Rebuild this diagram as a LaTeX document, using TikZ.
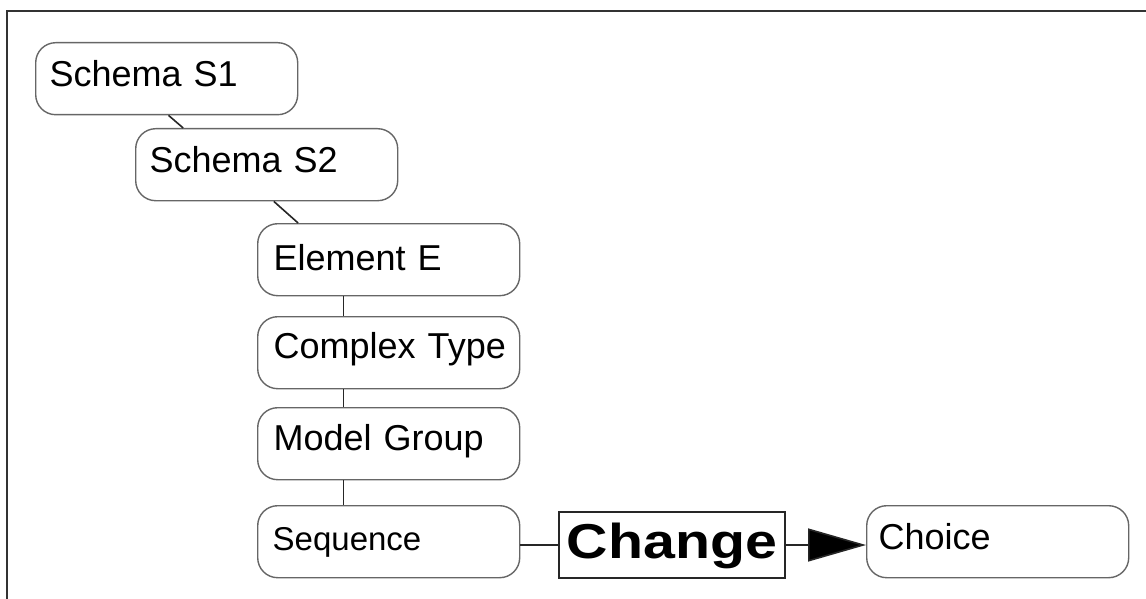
\documentclass[tikz,border=0pt]{standalone}
\usepackage{fontspec}
\setmainfont{Liberation Sans}
\usetikzlibrary{calc,arrows.meta}
\begin{document}
\begin{tikzpicture}[x=1pt,y=-1pt,
  box/.style={draw=black!60, line width=1.4pt, rounded corners=20pt, anchor=north west,
    minimum width=262pt, minimum height=72pt, inner xsep=0pt, inner ysep=0pt,
    text width=262pt, align=left, text height=44pt, text depth=28pt,
    font=\fontsize{36}{40}\selectfont},
  conn/.style={draw=black!85, line width=1.6pt},
  chg/.style={draw=black!85, line width=1.8pt, minimum width=226pt, minimum height=66pt,
    inner sep=0pt, text height=45pt, text depth=19pt,
    font=\fontsize{49}{52}\selectfont\bfseries}
]
\useasboundingbox (0,0) rectangle (1146,599);
\begin{scope}
\clip (0,0) rectangle (1146,599);
\draw[draw=black!80, line width=2.6pt] (7,11) rectangle (1170,630);
\end{scope}

\node[box] (S1) at (35,42) {\hspace*{14pt}Schema S1};
\node[box] (S2) at (135,128) {\hspace*{14pt}Schema S2};
\node[box, text height=47pt, text depth=25pt] (E) at (257,223) {\hspace*{16pt}Element E};
\node[box, text height=42pt, text depth=30pt] (CT) at (257,316) {\hspace*{16pt}Complex Type};
\node[box, text height=43pt, text depth=29pt] (MG) at (257,407) {\hspace*{16pt}Model Group};
\node[box, font=\fontsize{33}{38}\selectfont, text height=45pt, text depth=27pt] (Seq) at (257,505) {\hspace*{15pt}Sequence};
\node[box, text height=44pt, text depth=28pt] (Ch) at (866,505) {\hspace*{12pt}Choice};
\node[chg] (C) at (672,545) {\scalebox{1.17}[1]{Change}};

\draw[conn] ($(S1.south west)!0.507!(S1.south east)$) -- ($(S2.north west)!0.183!(S2.north east)$);
\draw[conn] ($(S2.south west)!0.527!(S2.south east)$) -- ($(E.north west)!0.156!(E.north east)$);
\draw[conn] ($(E.south west)!0.328!(E.south east)$) -- ($(CT.north west)!0.328!(CT.north east)$);
\draw[conn] ($(CT.south west)!0.328!(CT.south east)$) -- ($(MG.north west)!0.328!(MG.north east)$);
\draw[conn] ($(MG.south west)!0.328!(MG.south east)$) -- ($(Seq.north west)!0.328!(Seq.north east)$);
\draw[conn] (Seq.east |- C.west) -- (C.west);
\draw[conn, -{Triangle[length=58pt, width=33pt, fill=black]}] (C.east) -- (Ch.west |- C.east);
\end{tikzpicture}
\end{document}
